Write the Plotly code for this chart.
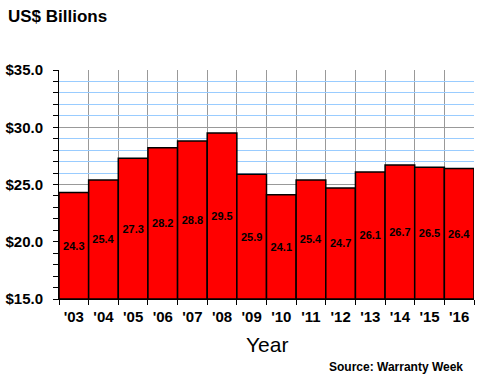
import plotly.graph_objects as go

years = ["'03", "'04", "'05", "'06", "'07", "'08", "'09", "'10", "'11", "'12", "'13", "'14", "'15", "'16"]
values = [24.3, 25.4, 27.3, 28.2, 28.8, 29.5, 25.9, 24.1, 25.4, 24.7, 26.1, 26.7, 26.5, 26.4]
y_base = 15.0
y_ticks = [15, 20, 25, 30, 35]
y_ticktext = ["$15.0", "$20.0", "$25.0", "$30.0", "$35.0"]

FONT = "Liberation Sans, Arial, sans-serif"
xpos = list(range(len(years)))

W, H = 480, 380

fig = go.Figure()
fig.add_trace(go.Bar(
    x=xpos,
    y=[v - y_base for v in values],
    base=y_base,
    width=1,
    marker=dict(color="#ff0000", line=dict(color="black", width=1.5)),
    text=[f"{v:.1f}" for v in values],
    textposition="inside",
    insidetextanchor="middle",
    textangle=0,
    textfont=dict(family=FONT, size=11, color="black", weight="bold"),
    hoverinfo="skip",
))

fig.update_layout(
    width=W, height=H,
    margin=dict(l=59, r=6, t=70, b=81),
    paper_bgcolor="white", plot_bgcolor="white",
    showlegend=False,
    bargap=0,
    title=dict(text="<b>US$ Billions</b>", xref="container", yref="container",
               x=8/W, xanchor="left", y=1 - 16/H, yanchor="middle",
               pad=dict(l=0, r=0, t=0, b=0),
               font=dict(family=FONT, size=17, color="black")),
    xaxis=dict(
        range=[-0.5, len(years) - 0.5],
        tickmode="array", tickvals=xpos, ticktext=years,
        ticks="", showgrid=False, zeroline=False, automargin=False,
        showline=True, linecolor="black", linewidth=1,
        tickfont=dict(family=FONT, size=15, color="black", weight="bold"),
        ticklabelstandoff=4,
        minor=dict(tick0=-0.5, dtick=1, ticks="outside", ticklen=5, tickcolor="black",
                   showgrid=True, gridcolor="#999999", gridwidth=1),
    ),
    yaxis=dict(
        range=[15, 35],
        tickmode="array", tickvals=y_ticks, ticktext=y_ticktext,
        ticks="outside", ticklen=5, tickcolor="black",
        showgrid=True, gridcolor="#999999", gridwidth=1,
        zeroline=False, automargin=False,
        showline=True, linecolor="black", linewidth=1,
        tickfont=dict(family=FONT, size=15, color="black", weight="bold"),
        ticklabelstandoff=7,
        minor=dict(tick0=15, dtick=1, ticks="outside", ticklen=5, tickcolor="black",
                   showgrid=True, gridcolor="#99ccff", gridwidth=1),
    ),
    annotations=[
        dict(text="Year", xref="paper", yref="paper", x=0.5, y=-0.2,
             xanchor="center", yanchor="middle", showarrow=False,
             font=dict(family=FONT, size=21, color="black")),
        dict(text="<b>Source: Warranty Week</b>", xref="paper", yref="paper", x=0.978, y=-0.297,
             xanchor="right", yanchor="middle", showarrow=False,
             font=dict(family=FONT, size=12, color="black")),
    ],
)

fig.write_html("out.html", config={"displayModeBar": False, "staticPlot": True},
               post_script="document.body.style.margin='0';")
